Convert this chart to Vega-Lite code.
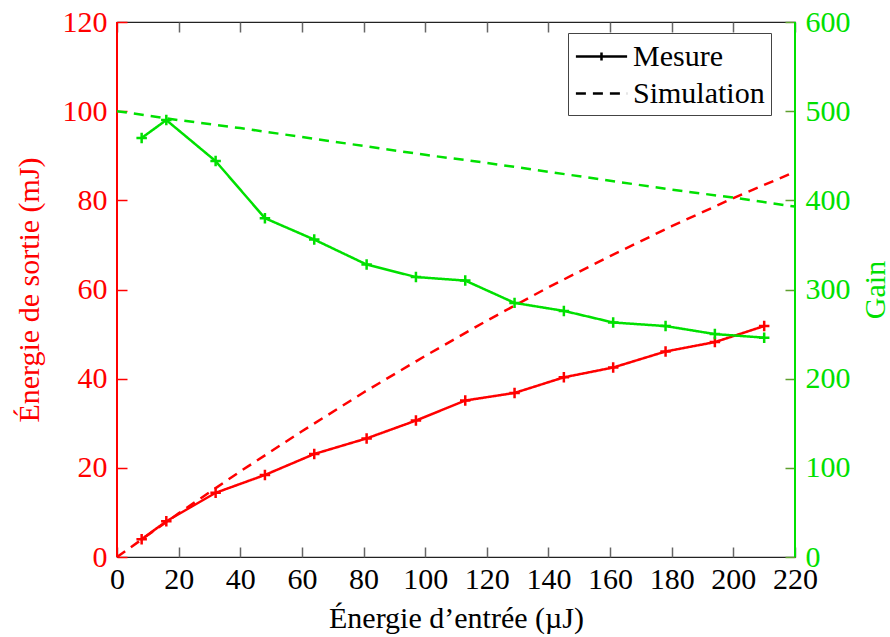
{
  "$schema": "https://vega.github.io/schema/vega-lite/v6.json",
  "width": 678,
  "height": 535,
  "autosize": {"type": "none"},
  "padding": {"left": 117, "top": 22, "right": 95, "bottom": 80},
  "background": "white",
  "config": {
    "font": "Liberation Serif",
    "view": {"stroke": "#222", "strokeWidth": 1.2},
    "axis": {
      "grid": false,
      "ticks": true,
      "labelFont": "Liberation Serif",
      "titleFont": "Liberation Serif",
      "labelFontSize": 30,
      "titleFontSize": 30,
      "titleFontWeight": "normal",
      "labelFlush": false,
      "labelOverlap": false,
      "labelBound": false,
      "tickWidth": 1.5,
      "tickOpacity": 1
    }
  },
  "datasets": {
    "mesure": [
      {"x": 8, "E": 4.0, "G": 470, "type": "Mesure"},
      {"x": 16, "E": 8.0, "G": 490, "type": "Mesure"},
      {"x": 32, "E": 14.4, "G": 444, "type": "Mesure"},
      {"x": 48, "E": 18.4, "G": 380, "type": "Mesure"},
      {"x": 64, "E": 23.1, "G": 356, "type": "Mesure"},
      {"x": 81, "E": 26.6, "G": 328, "type": "Mesure"},
      {"x": 97, "E": 30.6, "G": 314, "type": "Mesure"},
      {"x": 113, "E": 35.1, "G": 310, "type": "Mesure"},
      {"x": 129, "E": 36.8, "G": 285, "type": "Mesure"},
      {"x": 145, "E": 40.3, "G": 276, "type": "Mesure"},
      {"x": 161, "E": 42.5, "G": 263, "type": "Mesure"},
      {"x": 178, "E": 46.1, "G": 259, "type": "Mesure"},
      {"x": 194, "E": 48.2, "G": 250, "type": "Mesure"},
      {"x": 210, "E": 51.8, "G": 246, "type": "Mesure"}
    ],
    "sim": [
      {"x": 0, "E": 0, "G": 500, "type": "Simulation"},
      {"x": 20, "E": 9.8, "G": 490, "type": "Simulation"},
      {"x": 40, "E": 19.2, "G": 481, "type": "Simulation"},
      {"x": 60, "E": 28.2, "G": 471, "type": "Simulation"},
      {"x": 80, "E": 36.9, "G": 461, "type": "Simulation"},
      {"x": 100, "E": 45.1, "G": 451, "type": "Simulation"},
      {"x": 120, "E": 53.0, "G": 442, "type": "Simulation"},
      {"x": 140, "E": 60.5, "G": 432, "type": "Simulation"},
      {"x": 160, "E": 67.5, "G": 422, "type": "Simulation"},
      {"x": 180, "E": 74.2, "G": 412, "type": "Simulation"},
      {"x": 200, "E": 80.5, "G": 403, "type": "Simulation"},
      {"x": 220, "E": 86.4, "G": 393, "type": "Simulation"}
    ]
  },
  "layer": [
    {
      "layer": [
        {
          "data": {"name": "mesure"},
          "mark": {"type": "line", "color": "#ff0000", "strokeWidth": 2.5},
          "encoding": {
            "x": {
              "field": "x", "type": "quantitative",
              "scale": {"domain": [0, 220], "nice": false},
              "axis": {
                "orient": "bottom",
                "values": [0, 20, 40, 60, 80, 100, 120, 140, 160, 180, 200, 220],
                "title": "Énergie d’entrée (µJ)",
                "titleColor": "black",
                "labelColor": "black",
                "domain": false,
                "ticks": true,
                "offset": -10,
                "tickSize": 10,
                "tickColor": "#666",
                "labelPadding": 7,
                "titlePadding": 9
              }
            },
            "y": {
              "field": "E", "type": "quantitative",
              "scale": {"domain": [0, 120], "nice": false},
              "axis": {
                "orient": "left",
                "values": [0, 20, 40, 60, 80, 100, 120],
                "title": "Énergie de sortie (mJ)",
                "titleColor": "#ff0000",
                "labelColor": "#ff0000",
                "domain": false,
                "ticks": true,
                "offset": -10,
                "tickSize": 10,
                "tickColor": "#ff0000",
                "labelPadding": 10,
                "titlePadding": 18
              }
            },
            "strokeDash": {
              "field": "type", "type": "nominal",
              "scale": {"domain": ["Mesure", "Simulation"], "range": [[1, 0], [10, 7]]},
              "legend": {
                "title": null,
                "orient": "none",
                "legendX": 451,
                "legendY": 11,
                "direction": "vertical",
                "fillColor": "white",
                "strokeColor": "#444",
                "padding": 6,
                "cornerRadius": 0,
                "symbolType": "M-1.6,0H1.6",
                "symbolSize": 1024,
                "symbolOffset": 10,
                "symbolStrokeWidth": 2.5,
                "symbolStrokeColor": "black",
                "labelFont": "Liberation Serif",
                "labelFontSize": 30,
                "labelColor": "black",
                "labelOffset": 14,
                "rowPadding": 4,
                "encode": {
                  "symbols": {
                    "update": {
                      "shape": {"signal": "datum.value === 'Mesure' ? 'M-1.6,0H1.6M0,-0.25V0.25' : 'M-1.6,0H1.6'"}
                    }
                  }
                }
              }
            }
          }
        },
        {
          "data": {"name": "mesure"},
          "mark": {"type": "point", "shape": "M-1,0H1M0,-1V1", "filled": false, "color": "#ff0000", "strokeWidth": 2.5, "size": 110, "opacity": 1},
          "encoding": {
            "x": {"field": "x", "type": "quantitative"},
            "y": {"field": "E", "type": "quantitative"}
          }
        },
        {
          "data": {"name": "sim"},
          "mark": {"type": "line", "color": "#ff0000", "strokeWidth": 2.5},
          "encoding": {
            "x": {"field": "x", "type": "quantitative"},
            "y": {"field": "E", "type": "quantitative"},
            "strokeDash": {"field": "type", "type": "nominal"}
          }
        },
        {
          "data": {"name": "sim"},
          "mark": {"type": "rule", "color": "#ff0000", "strokeWidth": 1.3},
          "encoding": {
            "x": {"datum": 0, "type": "quantitative"}
          }
        }
      ]
    },
    {
      "layer": [
        {
          "data": {"name": "mesure"},
          "mark": {"type": "line", "color": "#00e000", "strokeWidth": 2.5},
          "encoding": {
            "x": {
              "field": "x", "type": "quantitative",
              "scale": {"domain": [0, 220], "nice": false},
              "axis": {
                "orient": "top",
                "values": [0, 20, 40, 60, 80, 100, 120, 140, 160, 180, 200, 220],
                "labels": false,
                "title": null,
                "domain": false,
                "ticks": true,
                "offset": -10,
                "tickSize": 10,
                "tickColor": "#666"
              }
            },
            "y": {
              "field": "G", "type": "quantitative",
              "scale": {"domain": [0, 600], "nice": false},
              "axis": {
                "orient": "right",
                "values": [0, 100, 200, 300, 400, 500, 600],
                "title": "Gain",
                "titleAngle": 270,
                "titleBaseline": "top",
                "titleColor": "#00e000",
                "labelColor": "#00e000",
                "domain": false,
                "ticks": true,
                "offset": -10,
                "tickSize": 10,
                "tickColor": "#5f9f2f",
                "labelPadding": 10,
                "titlePadding": 10
              }
            },
            "strokeDash": {"field": "type", "type": "nominal"}
          }
        },
        {
          "data": {"name": "mesure"},
          "mark": {"type": "point", "shape": "M-1,0H1M0,-1V1", "filled": false, "color": "#00e000", "strokeWidth": 2.5, "size": 110, "opacity": 1},
          "encoding": {
            "x": {"field": "x", "type": "quantitative"},
            "y": {"field": "G", "type": "quantitative"}
          }
        },
        {
          "data": {"name": "sim"},
          "mark": {"type": "line", "color": "#00e000", "strokeWidth": 2.5},
          "encoding": {
            "x": {"field": "x", "type": "quantitative"},
            "y": {"field": "G", "type": "quantitative"},
            "strokeDash": {"field": "type", "type": "nominal"}
          }
        },
        {
          "data": {"name": "sim"},
          "mark": {"type": "rule", "color": "#00e000", "strokeWidth": 1.3},
          "encoding": {
            "x": {"datum": 220, "type": "quantitative"}
          }
        }
      ]
    }
  ],
  "resolve": {"scale": {"y": "independent", "x": "independent"}}
}
